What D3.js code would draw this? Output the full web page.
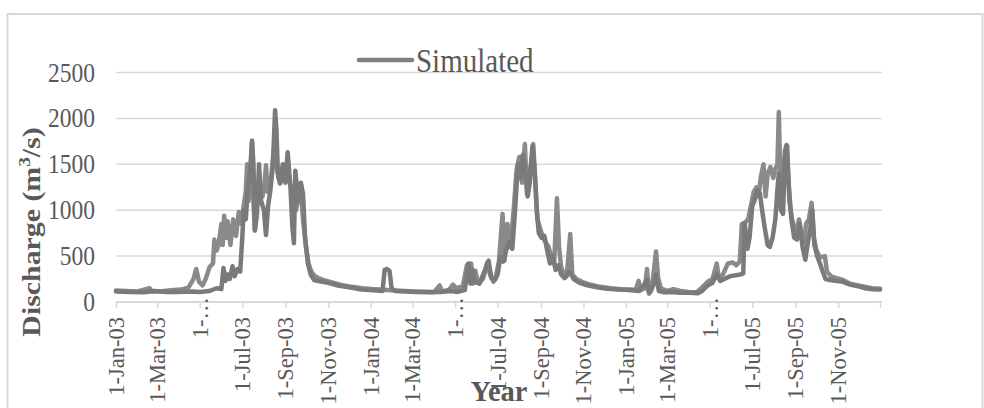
<!DOCTYPE html>
<html><head><meta charset="utf-8">
<script src="https://cdn.jsdelivr.net/npm/d3@7"></script>
<style>body{margin:0;background:#fff}svg{display:block}text{font-family:"Liberation Serif","Times New Roman",serif;fill:#595959}</style>
</head><body><svg id="c" width="984" height="408"></svg>
<script>
// ---------- data ----------
const yTicks = [0, 500, 1000, 1500, 2000, 2500];
const xTickDates = ["2003-01-01","2003-03-01","2003-05-01","2003-07-01","2003-09-01","2003-11-01",
  "2004-01-01","2004-03-01","2004-05-01","2004-07-01","2004-09-01","2004-11-01",
  "2005-01-01","2005-03-01","2005-05-01","2005-07-01","2005-09-01","2005-11-01"];
const xTickLabels = ["1-Jan-03","1-Mar-03","1-…","1-Jul-03","1-Sep-03","1-Nov-03",
  "1-Jan-04","1-Mar-04","1-…","1-Jul-04","1-Sep-04","1-Nov-04",
  "1-Jan-05","1-Mar-05","1-…","1-Jul-05","1-Sep-05","1-Nov-05"];
const legendLabel = "Simulated";
const xTitle = "Year";

// series 1 (earlier rising)
const seriesADates = ["2003-01-01","2003-01-15","2003-02-01","2003-02-18","2003-02-22","2003-03-10","2003-03-25","2003-04-05","2003-04-15","2003-04-22","2003-04-26","2003-04-30","2003-05-05","2003-05-10","2003-05-15","2003-05-20","2003-05-22","2003-05-25","2003-05-28","2003-06-01","2003-06-03","2003-06-05","2003-06-08","2003-06-10","2003-06-14","2003-06-18","2003-06-22","2003-06-26","2003-06-30","2003-07-03","2003-07-06","2003-07-08","2003-07-10","2003-07-12","2003-07-15","2003-07-17","2003-07-19","2003-07-22","2003-07-26","2003-07-30","2003-08-02","2003-08-04","2003-08-06","2003-08-09","2003-08-12","2003-08-15","2003-08-17","2003-08-19","2003-08-22","2003-08-25","2003-08-28","2003-09-01","2003-09-04","2003-09-07","2003-09-10","2003-09-13","2003-09-16","2003-09-20","2003-09-23","2003-09-26","2003-09-30","2003-10-04","2003-10-08","2003-10-12","2003-10-18","2003-10-25","2003-11-05","2003-11-20","2003-12-05","2003-12-20",
"2004-01-05","2004-01-15","2004-01-25","2004-02-05","2004-02-20","2004-03-05","2004-03-20","2004-04-01","2004-04-09","2004-04-12","2004-04-22","2004-04-28","2004-05-02","2004-05-12","2004-05-18","2004-05-21","2004-05-24","2004-05-27","2004-05-30","2004-06-03","2004-06-10","2004-06-16","2004-06-20","2004-06-25","2004-06-29","2004-07-03","2004-07-08","2004-07-11","2004-07-15","2004-07-19","2004-07-24","2004-07-28","2004-08-01","2004-08-05","2004-08-09","2004-08-12","2004-08-16","2004-08-21","2004-08-24","2004-08-27","2004-08-31","2004-09-04","2004-09-08","2004-09-12","2004-09-16","2004-09-20","2004-09-24","2004-09-27","2004-09-30","2004-10-04","2004-10-08","2004-10-13","2004-10-16","2004-10-22","2004-10-30","2004-11-10","2004-11-25","2004-12-10","2004-12-25",
"2005-01-08","2005-01-15","2005-01-19","2005-01-22","2005-01-28","2005-01-31","2005-02-03","2005-02-07","2005-02-13","2005-02-16","2005-02-20","2005-03-01","2005-03-10","2005-03-20","2005-04-01","2005-04-12","2005-04-20","2005-04-28","2005-05-05","2005-05-11","2005-05-14","2005-05-20","2005-05-27","2005-06-03","2005-06-08","2005-06-13","2005-06-16","2005-06-20","2005-06-25","2005-06-29","2005-07-03","2005-07-07","2005-07-10","2005-07-13","2005-07-17","2005-07-20","2005-07-23","2005-07-27","2005-07-31","2005-08-03","2005-08-06","2005-08-08","2005-08-10","2005-08-13","2005-08-17","2005-08-20","2005-08-23","2005-08-27","2005-08-31","2005-09-03","2005-09-06","2005-09-09","2005-09-13","2005-09-16","2005-09-20","2005-09-24","2005-09-27","2005-10-01","2005-10-05","2005-10-09","2005-10-13","2005-10-16","2005-10-22","2005-10-30","2005-11-08","2005-11-18","2005-11-30","2005-12-10","2005-12-20","2005-12-31"];
const seriesAValues = [125,120,115,150,115,120,130,135,160,250,360,220,180,260,380,420,680,560,620,850,620,940,700,880,620,900,720,980,850,1050,1200,1500,1100,1300,1760,1100,780,1050,1200,1150,1300,1490,1200,1250,1400,1650,1800,1500,1350,1300,1450,1380,1500,1300,1250,1100,1000,1150,1250,900,620,420,330,290,260,240,215,185,165,150,
140,135,130,125,120,115,112,110,180,115,130,190,150,170,400,300,420,200,340,210,250,430,300,220,300,450,960,450,850,600,1000,1430,1580,1300,1720,1180,1400,1720,1300,900,800,700,650,600,480,420,1130,600,380,300,280,740,300,250,220,190,165,150,140,
135,130,230,130,150,360,90,150,550,260,150,120,140,120,110,105,160,220,250,420,260,300,420,430,400,440,850,860,900,1050,1200,1250,1150,1350,1500,1150,1400,1470,1350,1450,1500,2070,1350,1200,1650,1700,1100,900,780,800,900,750,640,850,900,1080,700,560,500,490,500,330,280,260,240,200,180,165,150,145];

// series 2 (Simulated)
const seriesBDates = ["2003-01-01","2003-01-20","2003-02-10","2003-02-25","2003-03-15","2003-04-01","2003-04-20","2003-05-01","2003-05-15","2003-05-25","2003-06-01","2003-06-04","2003-06-07","2003-06-10","2003-06-13","2003-06-17","2003-06-20","2003-06-24","2003-06-28","2003-07-01","2003-07-03","2003-07-06","2003-07-09","2003-07-12","2003-07-15","2003-07-17","2003-07-19","2003-07-22","2003-07-25","2003-07-28","2003-08-01","2003-08-04","2003-08-07","2003-08-10","2003-08-14","2003-08-17","2003-08-19","2003-08-21","2003-08-24","2003-08-28","2003-09-01","2003-09-04","2003-09-08","2003-09-11","2003-09-13","2003-09-15","2003-09-19","2003-09-23","2003-09-26","2003-09-29","2003-10-03","2003-10-07","2003-10-12","2003-10-20","2003-11-01","2003-11-15","2003-12-01","2003-12-15","2003-12-31",
"2004-01-10","2004-01-18","2004-01-21","2004-01-24","2004-01-28","2004-01-31","2004-02-05","2004-02-20","2004-03-05","2004-03-25","2004-04-10","2004-04-25","2004-05-05","2004-05-15","2004-05-20","2004-05-23","2004-05-26","2004-05-29","2004-06-05","2004-06-12","2004-06-18","2004-06-22","2004-06-27","2004-07-01","2004-07-05","2004-07-09","2004-07-13","2004-07-18","2004-07-22","2004-07-26","2004-07-30","2004-08-03","2004-08-06","2004-08-10","2004-08-13","2004-08-16","2004-08-20","2004-08-23","2004-08-26","2004-08-29","2004-09-02","2004-09-06","2004-09-10","2004-09-14","2004-09-18","2004-09-22","2004-09-26","2004-09-30","2004-10-05","2004-10-12","2004-10-18","2004-10-26","2004-11-05","2004-11-20","2004-12-05","2004-12-20",
"2005-01-05","2005-01-12","2005-01-20","2005-01-26","2005-01-31","2005-02-02","2005-02-05","2005-02-10","2005-02-13","2005-02-17","2005-02-25","2005-03-08","2005-03-20","2005-04-01","2005-04-14","2005-04-20","2005-04-28","2005-05-05","2005-05-11","2005-05-16","2005-05-22","2005-05-30","2005-06-06","2005-06-14","2005-06-18","2005-06-20","2005-06-24","2005-06-27","2005-07-01","2005-07-04","2005-07-08","2005-07-12","2005-07-15","2005-07-19","2005-07-23","2005-07-26","2005-07-30","2005-08-03","2005-08-06","2005-08-08","2005-08-11","2005-08-14","2005-08-17","2005-08-19","2005-08-22","2005-08-26","2005-08-30","2005-09-03","2005-09-07","2005-09-11","2005-09-15","2005-09-18","2005-09-22","2005-09-25","2005-09-28","2005-10-02","2005-10-06","2005-10-10","2005-10-14","2005-10-20","2005-10-28","2005-11-08","2005-11-18","2005-11-30","2005-12-10","2005-12-20","2005-12-31"];
const seriesBValues = [115,110,105,120,110,110,115,110,120,150,140,370,230,300,250,390,280,360,330,700,1000,900,1250,1400,1750,1500,780,950,1500,1100,1000,730,1050,1200,1500,2090,1870,1400,1290,1500,1300,1630,1250,800,640,1430,1100,1300,1180,700,420,300,240,225,210,180,160,140,130,
125,120,350,360,340,150,120,115,110,105,110,120,110,130,420,200,350,220,200,330,450,260,240,300,500,440,560,650,580,1000,1500,1350,1600,1400,1150,1300,1700,1450,1000,750,700,720,560,420,500,350,400,300,260,330,250,210,185,160,145,135,
130,125,120,180,240,120,110,200,300,120,105,110,100,100,95,120,180,210,300,230,250,280,290,300,310,860,580,700,1050,1100,1220,1180,1000,800,620,600,700,900,1230,1400,1000,960,1650,1710,1300,900,700,680,850,600,460,620,800,1000,620,500,420,330,250,240,230,220,190,170,150,140,135];

// ---------- chart ----------
const svg = d3.select("#c");
const parse = d3.utcParse("%Y-%m-%d");
const SY = 1.17; // vertical stretch of the reference text
const x = d3.scaleUtc().domain([parse("2003-01-01"), parse("2005-12-31")]).range([116, 880]);
const y = d3.scaleLinear().domain([0, 2500]).range([302, 72.5]);

svg.append("rect").attr("x", 7.5).attr("y", 14).attr("width", 975).attr("height", 420)
  .attr("fill", "#fff").attr("stroke", "#d9d9d9").attr("stroke-width", 2);

// gridlines
svg.append("g").selectAll("line").data(yTicks.filter(d => d > 0)).join("line")
  .attr("x1", 116).attr("x2", 882).attr("y1", d => y(d)).attr("y2", d => y(d))
  .attr("stroke", "#d9d9d9").attr("stroke-width", 1.5);

// y tick labels
svg.append("g").selectAll("text").data(yTicks).join("text")
  .attr("transform", d => `translate(95,${y(d) + 9}) scale(1,${SY})`)
  .attr("text-anchor", "end").attr("font-size", 23.5).text(d => d);

// x axis
const xa = d3.axisBottom(x).tickValues(xTickDates.map(parse).concat([parse("2005-12-31")]))
  .tickSize(6).tickFormat("");
const gx = svg.append("g").attr("transform", "translate(0,302)").call(xa);
gx.select(".domain").attr("stroke", "#d9d9d9").attr("stroke-width", 2).attr("d", "M116,0H882");
gx.selectAll(".tick line").attr("stroke", "#d9d9d9").attr("stroke-width", 1.5);

svg.append("g").selectAll("text").data(xTickDates.map((d, i) => ({d: parse(d), t: xTickLabels[i]}))).join("text")
  .attr("transform", o => `translate(${x(o.d)},${o.t === "1-…" ? 297 : 317}) rotate(-90)`)
  .attr("text-anchor", "end").attr("dy", "0.35em").attr("font-size", 22.5).text(o => o.t);

// lines
const line = d3.line().x(d => x(d[0])).y(d => y(d[1])).curve(d3.curveLinear);
const dataA = seriesADates.map((d, i) => [parse(d), seriesAValues[i]]);
const dataB = seriesBDates.map((d, i) => [parse(d), seriesBValues[i]]);
svg.append("path").datum(dataA).attr("d", line).attr("fill", "none")
  .attr("stroke", "#8a8a8a").attr("stroke-width", 4.5).attr("stroke-linejoin", "round").attr("stroke-linecap", "round");
svg.append("path").datum(dataB).attr("d", line).attr("fill", "none")
  .attr("stroke", "#7a7a7a").attr("stroke-width", 4.5).attr("stroke-linejoin", "round").attr("stroke-linecap", "round");

// legend
svg.append("line").attr("x1", 359).attr("x2", 412).attr("y1", 60).attr("y2", 60)
  .attr("stroke", "#7f7f7f").attr("stroke-width", 4.5).attr("stroke-linecap", "round");
svg.append("text").attr("transform", `translate(416,72) scale(1,${SY})`)
  .attr("font-size", 29).text(legendLabel);

// axis titles
svg.append("text").attr("transform", `translate(499,401) scale(1,1.05)`)
  .attr("text-anchor", "middle").attr("font-size", 28.5).attr("font-weight", "bold").text(xTitle);

const yt = svg.append("text").attr("transform", `translate(40,232) rotate(-90) scale(${SY},1)`)
  .attr("text-anchor", "middle").attr("font-size", 25.5).attr("font-weight", "bold");
yt.append("tspan").text("Discharge (m");
yt.append("tspan").attr("font-size", 16.5).attr("dy", -10).text("3");
yt.append("tspan").attr("dy", 10).text("/s)");
</script></body></html>
